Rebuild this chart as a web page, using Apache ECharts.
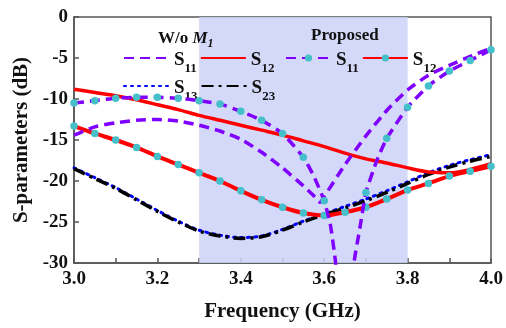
<!DOCTYPE html>
<html>
<head>
<meta charset="utf-8">
<script src="https://cdn.jsdelivr.net/npm/echarts@6/dist/echarts.min.js"></script>
<style>
  html, body { margin: 0; padding: 0; background: #fff; }
  #chart { width: 506px; height: 328px; }
</style>
</head>
<body>
<div id="chart"></div>
<script>
// Frequency sweep (GHz), one sample every 50 MHz
const freq = [3.00, 3.05, 3.10, 3.15, 3.20, 3.25, 3.30, 3.35, 3.40, 3.45, 3.50,
              3.55, 3.60, 3.65, 3.70, 3.75, 3.80, 3.85, 3.90, 3.95, 4.00];

// Without M1 (dB)
const woS11 = [-14.4, -13.4, -12.9, -12.6, -12.5, -12.7, -13.2, -13.9, -14.9, -16.5, -18.4,
               -20.6, -21.9, -18.0, -14.5, -11.4, -8.9, -7.1, -5.9, -4.8, -3.8];
const woS11DipFreq = [3.575, 3.59];
const woS11Dip = [-21.8, -22.6];
const woS12 = [-8.8, -9.2, -9.6, -10.1, -10.7, -11.3, -12.0, -12.6, -13.2, -13.8, -14.4,
               -15.1, -15.8, -16.6, -17.3, -17.8, -18.4, -18.9, -19.0, -18.6, -17.9];
const woS13 = [-18.4, -19.6, -20.8, -22.2, -23.6, -24.9, -26.0, -26.6, -26.9, -26.7, -25.9,
               -24.9, -24.0, -23.1, -22.2, -21.2, -20.1, -19.0, -18.1, -17.4, -16.8];
const woS23 = [-18.5, -19.7, -20.9, -22.3, -23.7, -25.0, -26.1, -26.7, -27.0, -26.8, -26.0,
               -25.0, -24.1, -23.3, -22.4, -21.4, -20.3, -19.2, -18.3, -17.6, -17.0];

// Proposed (dB)
const proS11 = [-10.5, -10.2, -9.9, -9.8, -9.8, -9.9, -10.2, -10.6, -11.5, -12.6, -14.2,
                -17.1, -22.4, -42.0, -21.4, -14.8, -11.0, -8.4, -6.6, -5.3, -4.0];
const proS11DipFreq = [3.575, 3.615, 3.627, 3.672, 3.686, 3.727];
const proS11Dip = [-19.4, -25.4, -29.8, -29.8, -25.6, -17.4];
const proS12 = [-13.3, -14.2, -15.0, -15.9, -17.0, -18.0, -19.0, -20.0, -21.2, -22.3, -23.2,
                -23.9, -24.2, -23.8, -23.2, -22.2, -21.1, -20.3, -19.4, -18.8, -18.2];

// Operating band highlighted in the plot
const band = [3.3, 3.8];

// Axis settings
const xTicks = [3.0, 3.2, 3.4, 3.6, 3.8, 4.0];
const yRange = [-30, 0];

const FONT = '"Liberation Serif", "Times New Roman", serif';
const PURPLE = '#7f00ff';
const RED = '#ff0000';
const CYAN = '#45bfca';
const BLUE = '#0000ff';

// Merge the regular sweep with extra samples near a notch; markers only on the 50 MHz grid.
function buildPoints(values, extraFreq, extraVals, marked) {
  const pts = freq.map((f, i) => ({ f, v: values[i], grid: true }));
  (extraFreq || []).forEach((f, i) => pts.push({ f, v: extraVals[i], grid: false }));
  pts.sort((a, b) => a.f - b.f);
  return pts.map(p => {
    const item = { value: [p.f, p.v] };
    if (!marked || !p.grid) item.symbol = 'none';
    return item;
  });
}

const labels = {
  'woS11': ['S', '11'], 'woS12': ['S', '12'], 'woS13': ['S', '13'], 'woS23': ['S', '23'],
  'proS11': ['S', '11'], 'proS12': ['S', '12']
};

const legendText = {
  fontFamily: FONT,
  fontWeight: 'bold',
  color: '#111',
  rich: {
    s: { fontFamily: FONT, fontWeight: 'bold', fontSize: 19, color: '#111', lineHeight: 24, verticalAlign: 'bottom' },
    sub: { fontFamily: FONT, fontWeight: 'bold', fontSize: 13, color: '#111', lineHeight: 24, verticalAlign: 'bottom', padding: [0, 0, -5, 0] }
  }
};

function legendFormatter(name) {
  const l = labels[name];
  return '{s|' + l[0] + '}{sub|' + l[1] + '}';
}

function makeLegend(data, left, top, withMarker) {
  const lg = {
    data, left, top,
    orient: 'horizontal',
    itemWidth: 45,
    itemHeight: 9,
    itemGap: 3,
    selectedMode: false,
    formatter: legendFormatter,
    textStyle: legendText
  };
  if (!withMarker) lg.itemStyle = { opacity: 0 };
  return lg;
}

const chart = echarts.init(document.getElementById('chart'), null, { renderer: 'canvas' });

chart.setOption({
  animation: false,
  backgroundColor: '#fff',
  grid: { left: 74, right: 15, top: 17, bottom: 65, show: true, borderColor: '#555', borderWidth: 1.5 },
  title: [
    {
      text: '{a|W/o }{m|M}{s|1}',
      left: 153, top: 22,
      textStyle: {
        rich: {
          a: { fontFamily: FONT, fontWeight: 'bold', fontSize: 17, color: '#111', lineHeight: 20, verticalAlign: 'bottom' },
          m: { fontFamily: FONT, fontWeight: 'bold', fontStyle: 'italic', fontSize: 17, color: '#111', lineHeight: 20, verticalAlign: 'bottom' },
          s: { fontFamily: FONT, fontWeight: 'bold', fontStyle: 'italic', fontSize: 12, color: '#111', lineHeight: 20, verticalAlign: 'bottom', padding: [0, 0, -3, 0] }
        }
      }
    },
    {
      text: 'Proposed',
      left: 306, top: 22,
      textStyle: { fontFamily: FONT, fontWeight: 'bold', fontSize: 17, color: '#111' }
    }
  ],
  legend: [
    makeLegend(['woS11', 'woS12'], 118, 46, false),
    makeLegend(['woS13', 'woS23'], 118, 74, false),
    makeLegend(['proS11', 'proS12'], 280, 46, true)
  ],
  xAxis: {
    type: 'value',
    min: 3.0, max: 4.0, interval: 0.1,
    name: 'Frequency (GHz)',
    nameLocation: 'middle',
    nameGap: 38,
    nameTextStyle: { fontFamily: FONT, fontWeight: 'bold', fontSize: 21, color: '#111' },
    axisLine: { show: true, onZero: false, lineStyle: { color: '#555', width: 1.5 } },
    axisTick: { show: true, inside: true, length: 5, lineStyle: { color: '#555', width: 1.5 } },
    splitLine: { show: false },
    axisLabel: {
      margin: 7,
      fontFamily: FONT, fontWeight: 'bold', fontSize: 19, color: '#111',
      formatter: v => {
        const hit = xTicks.find(t => Math.abs(t - v) < 1e-6);
        return hit === undefined ? '' : hit.toFixed(1);
      }
    }
  },
  yAxis: {
    type: 'value',
    min: yRange[0], max: yRange[1], interval: 5,
    name: 'S-parameters (dB)',
    nameLocation: 'middle',
    nameGap: 41,
    nameRotate: 90,
    nameTextStyle: { fontFamily: FONT, fontWeight: 'bold', fontSize: 21, color: '#111' },
    axisLine: { show: true, onZero: false, lineStyle: { color: '#555', width: 1.5 } },
    axisTick: { show: true, inside: true, length: 5, lineStyle: { color: '#555', width: 1.5 } },
    splitLine: { show: false },
    axisLabel: { margin: 6, fontFamily: FONT, fontWeight: 'bold', fontSize: 19, color: '#111' }
  },
  series: [
    {
      name: 'woS13', type: 'line', symbol: 'none', smooth: 0.3, z: 2,
      lineStyle: { color: BLUE, width: 3, type: [2, 5], cap: 'round' },
      itemStyle: { color: BLUE },
      data: buildPoints(woS13),
      markArea: {
        silent: true,
        itemStyle: { color: 'rgba(205,210,248,0.85)' },
        data: [[{ xAxis: band[0] }, { xAxis: band[1] }]]
      }
    },
    {
      name: 'woS23', type: 'line', symbol: 'none', smooth: 0.3, z: 3,
      lineStyle: { color: '#000', width: 3.5, type: [12, 5, 3, 5] },
      itemStyle: { color: '#000' },
      data: buildPoints(woS23)
    },
    {
      name: 'woS12', type: 'line', symbol: 'none', smooth: 0.3, z: 3,
      lineStyle: { color: RED, width: 3.5 },
      itemStyle: { color: RED },
      data: buildPoints(woS12)
    },
    {
      name: 'proS12', type: 'line', symbol: 'circle', symbolSize: 7.5, smooth: 0.3, z: 4,
      lineStyle: { color: RED, width: 4 },
      itemStyle: { color: CYAN, borderWidth: 0 },
      data: buildPoints(proS12, null, null, true)
    },
    {
      name: 'woS11', type: 'line', symbol: 'none', smooth: 0.2, z: 5,
      lineStyle: { color: PURPLE, width: 3.5, type: [10, 6] },
      itemStyle: { color: PURPLE },
      data: buildPoints(woS11, woS11DipFreq, woS11Dip)
    },
    {
      name: 'proS11', type: 'line', symbol: 'circle', symbolSize: 7.5, smooth: 0.15, z: 5,
      lineStyle: { color: PURPLE, width: 3.5, type: [10, 6] },
      itemStyle: { color: CYAN, borderWidth: 0 },
      data: buildPoints(proS11, proS11DipFreq, proS11Dip, true)
    }
  ]
});
</script>
</body>
</html>
